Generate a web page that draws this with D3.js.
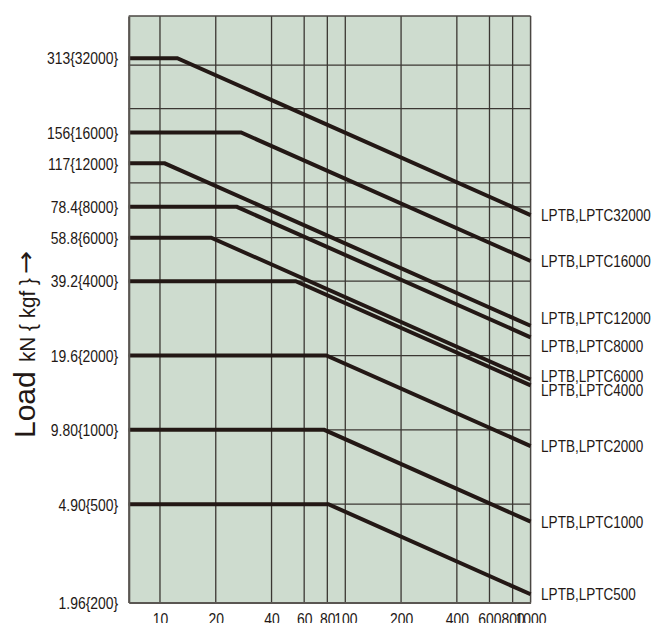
<!DOCTYPE html>
<html>
<head>
<meta charset="utf-8">
<script src="https://cdn.jsdelivr.net/npm/d3@7"></script>
<style>
  html, body { margin: 0; padding: 0; background: #ffffff; }
  svg { display: block; }
</style>
</head>
<body>
<svg id="chart" width="652" height="623"></svg>
<script>
// ---------------- data ----------------
const seriesNames = ["LPTB,LPTC32000", "LPTB,LPTC16000", "LPTB,LPTC12000", "LPTB,LPTC8000",
  "LPTB,LPTC6000", "LPTB,LPTC4000", "LPTB,LPTC2000", "LPTB,LPTC1000", "LPTB,LPTC500"];
// rated load (kgf) – flat part of each line
const ratedLoadKgf = [32000, 16000, 12000, 8000, 6000, 4000, 2000, 1000, 500];
// x value where each line starts to fall
const breakX = [12.4, 27.4, 10.6, 26.0, 18.9, 54.0, 79.0, 77.0, 81.0];
// load (kgf) read at the right edge (x = 1000)
const endLoadKgf = [7410, 4830, 2640, 2370, 1600, 1515, 860, 425, 216];

const yTickValues = [32000, 16000, 12000, 8000, 6000, 4000, 2000, 1000, 500, 200];
const yTickLabels = ["313{32000}", "156{16000}", "117{12000}", "78.4{8000}", "58.8{6000}",
  "39.2{4000}", "19.6{2000}", "9.80{1000}", "4.90{500}", "1.96{200}"];
const yGridValues = [500, 1000, 2000, 4000, 6000, 8000, 10000, 20000, 30000];

const xTickValues = [10, 20, 40, 60, 80, 100, 200, 400, 600, 800, 1000];
const xTickLabels = ["10", "20", "40", "60", "80", "100", "200", "400", "600", "800", "1000"];

const xDomain = [6.78, 1000];
const yDomain = [200, 47400];

// ---------------- layout ----------------
const svg = d3.select("#chart");
const L = 128.7, R = 530.6, T = 16, B = 602.5;

const x = d3.scaleLog().domain(xDomain).range([L, R]);
const y = d3.scaleLog().domain(yDomain).range([B, T]);

const ink = "#231815";
const sans = "'Liberation Sans', Arial, sans-serif";
const SQ = 0.82; // horizontal condensing factor

function condense(sel) {
  sel.each(function () {
    const t = d3.select(this);
    const x0 = +(t.attr("x") || 0);
    const prev = t.attr("transform") || "";
    t.attr("x", x0 / SQ).attr("transform", (prev + ` scale(${SQ},1)`).trim());
  });
}

// background
svg.append("rect").attr("x", L).attr("y", T).attr("width", R - L).attr("height", B - T)
  .attr("fill", "#cedccf");

// grid
const grid = svg.append("g").attr("stroke", "#3b3733").attr("stroke-width", 1.3);
grid.selectAll("line.v").data(xTickValues.filter(v => v < 1000)).join("line")
  .attr("class", "v")
  .attr("x1", d => x(d)).attr("x2", d => x(d)).attr("y1", T).attr("y2", B);
grid.selectAll("line.h").data(yGridValues).join("line")
  .attr("class", "h")
  .attr("x1", L).attr("x2", R).attr("y1", d => y(d)).attr("y2", d => y(d));

// frame
svg.append("line").attr("x1", L).attr("x2", R).attr("y1", T).attr("y2", T)
  .attr("stroke", "#4a4642").attr("stroke-width", 1.5);
svg.append("line").attr("x1", R).attr("x2", R).attr("y1", T).attr("y2", B)
  .attr("stroke", "#4a4642").attr("stroke-width", 1.5);

// series
const line = d3.line().x(d => x(d[0])).y(d => y(d[1]));
const seriesData = seriesNames.map((name, i) => ({
  name,
  pts: [[xDomain[0], ratedLoadKgf[i]], [breakX[i], ratedLoadKgf[i]], [xDomain[1], endLoadKgf[i]]],
  end: endLoadKgf[i]
}));
svg.append("g").selectAll("path").data(seriesData).join("path")
  .attr("d", d => line(d.pts))
  .attr("fill", "none").attr("stroke", ink).attr("stroke-width", 4)
  .attr("stroke-linejoin", "miter");

// axes
const yAxis = d3.axisLeft(y).tickValues(yTickValues)
  .tickFormat((d, i) => yTickLabels[i]).tickSize(0).tickPadding(10.5);
const gy = svg.append("g").attr("transform", `translate(${L},0)`).call(yAxis);
gy.select(".domain").attr("stroke", "#5a5652").attr("stroke-width", 2.2);
gy.selectAll("text").attr("font-family", sans).attr("font-size", 17)
  .attr("fill", ink).attr("dy", "0.34em").call(condense);

const xAxis = d3.axisBottom(x).tickValues(xTickValues)
  .tickFormat((d, i) => xTickLabels[i]).tickSize(0).tickPadding(10);
const gx = svg.append("g").attr("transform", `translate(0,${B})`).call(xAxis);
gx.select(".domain").attr("stroke", "#5a5652").attr("stroke-width", 2.2);
gx.selectAll("text").attr("font-family", sans).attr("font-size", 17)
  .attr("fill", ink).attr("dy", "0.71em").call(condense);

// series labels at right
const labelNudge = { "LPTB,LPTC12000": -8, "LPTB,LPTC8000": 9, "LPTB,LPTC6000": -3, "LPTB,LPTC4000": 5 };
svg.append("g").selectAll("text").data(seriesData).join("text")
  .attr("x", R + 10.5)
  .attr("y", d => y(d.end) + (labelNudge[d.name] || 0))
  .attr("dy", "0.36em")
  .attr("font-family", sans).attr("font-size", 16.5).attr("fill", ink)
  .text(d => d.name)
  .call(condense);

// y title
svg.append("text")
  .attr("transform", "translate(35,438) rotate(-90)")
  .attr("fill", ink).attr("font-family", sans).attr("font-size", 30)
  .text("Load");
svg.append("text")
  .attr("transform", "translate(35,362) rotate(-90)")
  .attr("fill", ink).attr("font-family", sans).attr("font-size", 22)
  .attr("textLength", 84).attr("lengthAdjust", "spacingAndGlyphs")
  .text("kN { kgf }");
svg.append("text")
  .attr("transform", "translate(34,274) rotate(-90)")
  .attr("fill", ink).attr("font-family", "'DejaVu Sans', sans-serif").attr("font-size", 24)
  .attr("textLength", 23).attr("lengthAdjust", "spacingAndGlyphs")
  .text("→");
</script>
</body>
</html>
